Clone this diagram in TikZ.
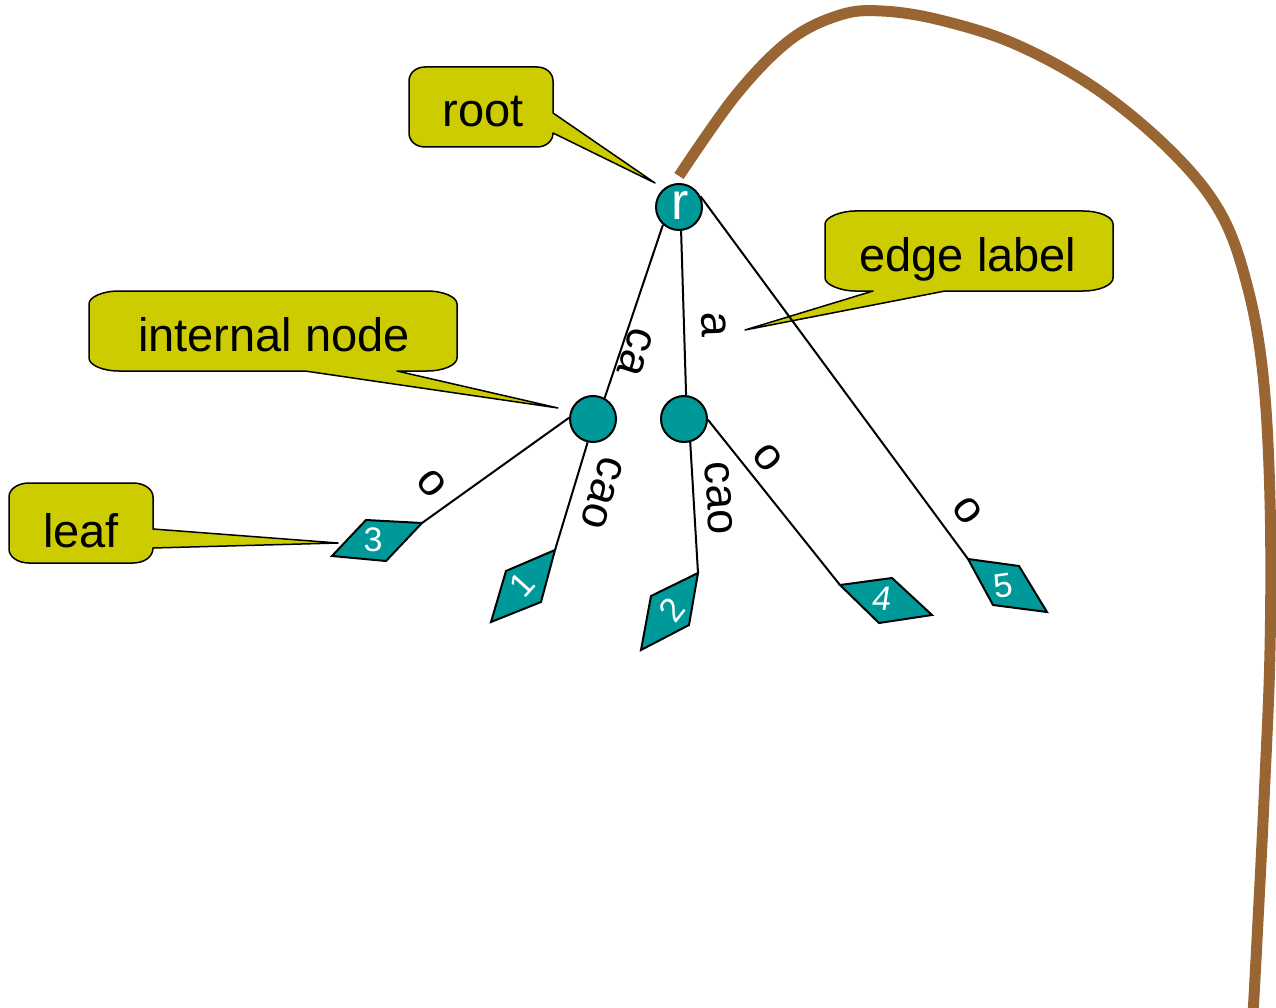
\documentclass[tikz,border=0pt]{standalone}
\usepackage{fontspec}
\setmainfont{Liberation Sans}
\definecolor{tealfill}{HTML}{009999}
\definecolor{calloutfill}{HTML}{CCCC00}
\definecolor{trunk}{HTML}{996633}
\tikzset{
  callout/.style={draw=black, line width=1.5pt, fill=calloutfill, line join=round},
  callouttext/.style={anchor=base, font=\fontsize{47}{56}\selectfont, inner sep=0pt},
  treeedge/.style={draw=black, line width=2pt},
  edgelabel/.style={font=\fontsize{45}{54}\selectfont, inner sep=0pt},
  innernode/.style={circle, draw=black, line width=2pt, fill=tealfill, minimum size=46pt, inner sep=0pt},
  leafbox/.style={draw=black, line width=2pt, fill=tealfill, line join=miter},
  leafnum/.style={text=white, font=\fontsize{34}{40}\selectfont, inner sep=0pt}
}
\begin{document}
\begin{tikzpicture}[x=1pt, y=-1pt]
\useasboundingbox (0,0) rectangle (1276,1008);

% the brown boundary curve
\draw[trunk, line width=11pt, line cap=butt]
  plot[smooth, tension=0.6] coordinates {
    (679,176) (736,95) (790,40) (840,15) (882,11) (940,20) (1015,44)
    (1095,88) (1170,150) (1220,212) (1247,285) (1263,375) (1270,500)
    (1270,650) (1264,800) (1257,940) (1253,1015)};

% callouts
\draw[callout] (425,67) -- (537,67) .. controls (546,67) and (553,73) .. (553,81)
  -- (553,113) -- (655,183) -- (553,133)
  .. controls (553,141) and (546,147) .. (537,147) -- (425,147)
  .. controls (416,147) and (409,141) .. (409,133) -- (409,81)
  .. controls (409,73) and (416,67) .. (425,67) -- cycle;
\node[callouttext] (troot) at (483,127) {root};

\draw[callout] (855,211) -- (1083,211) .. controls (1099.5,211) and (1113,217) .. (1113,224)
  -- (1113,278) .. controls (1113,285) and (1099.5,291) .. (1083,291)
  -- (945,291) -- (745,330) -- (873,291) -- (855,291)
  .. controls (841.5,291) and (825,285) .. (825,278) -- (825,224)
  .. controls (825,217) and (841.5,211) .. (855,211) -- cycle;
\node[callouttext] (tedge) at (968,271) {edge label};

\draw[callout] (119,291) -- (427,291) .. controls (443.5,291) and (457,297) .. (457,304)
  -- (457,358) .. controls (457,365) and (443.5,371) .. (427,371)
  -- (397,371) -- (558,408) -- (305,371) -- (119,371)
  .. controls (102.5,371) and (89,365) .. (89,358) -- (89,304)
  .. controls (89,297) and (102.5,291) .. (119,291) -- cycle;
\node[callouttext] (tinternal) at (274,351) {internal node};

\draw[callout] (29,483) -- (133,483) .. controls (144,483) and (153,489) .. (153,497)
  -- (153,529) -- (338,543) -- (153,548)
  .. controls (153,557) and (144,563) .. (133,563) -- (29,563)
  .. controls (18,563) and (9,557) .. (9,549) -- (9,497)
  .. controls (9,489) and (18,483) .. (29,483) -- cycle;
\node[callouttext] (tleaf) at (81,547) {leaf};

% tree nodes
\node[innernode] (r)  at (679,207) {};
\node[innernode] (n1) at (593,419) {};
\node[innernode] (n2) at (684,419) {};
\node[text=white, font=\fontsize{52}{60}\selectfont, inner sep=0pt] (rl) at (680,206) {r};

% leaf attachment points
\coordinate (l3) at (422,523);
\coordinate (l1) at (555,550);
\coordinate (l2) at (698,573);
\coordinate (l4) at (840,585);
\coordinate (l5) at (968,559);

% edges
\draw[treeedge] (r.228) -- (n1.61);
\draw[treeedge] (r.275) -- (n2.85);
\draw[treeedge] (r.27) -- (l5);
\draw[treeedge] (n1.177) -- (l3);
\draw[treeedge] (n1.257) -- (l1);
\draw[treeedge] (n2.285) -- (l2);
\draw[treeedge] (n2.358) -- (l4);

% edge labels
\node[edgelabel, rotate=-108] (eca)  at (635,352) {ca};
\node[edgelabel, rotate=-88]  (ea)   at (714,325) {a};
\node[edgelabel, rotate=-50]  (eo3)  at (432,483) {o};
\node[edgelabel, rotate=-107] (ecao1) at (602,493) {cao};
\node[edgelabel, rotate=-86]  (ecao2) at (719,498) {cao};
\node[edgelabel, rotate=-51]  (eo4)  at (768,458) {o};
\node[edgelabel, rotate=-54]  (eo5)  at (967,511) {o};

% leaves
\draw[leafbox] (l3) -- (366,520) -- (332,556) -- (386,561) -- cycle;
\draw[leafbox] (l1) -- (541,602) -- (491,622) -- (506,571) -- cycle;
\draw[leafbox] (l2) -- (689,625) -- (641,650) -- (651,596) -- cycle;
\draw[leafbox] (l4) -- (892,578) -- (932,615) -- (879,623) -- cycle;
\draw[leafbox] (l5) -- (1019,566) -- (1047,612) -- (993,605) -- cycle;

\node[leafnum] (k3) at (373,540) {3};
\node[leafnum, rotate=48] (k1) at (522,585) {1};
\node[leafnum, rotate=52] (k2) at (672,610) {2};
\node[leafnum, xslant=0.15] (k4) at (882,599) {4};
\node[leafnum, rotate=8] (k5) at (1003,586) {5};
\end{tikzpicture}
\end{document}
